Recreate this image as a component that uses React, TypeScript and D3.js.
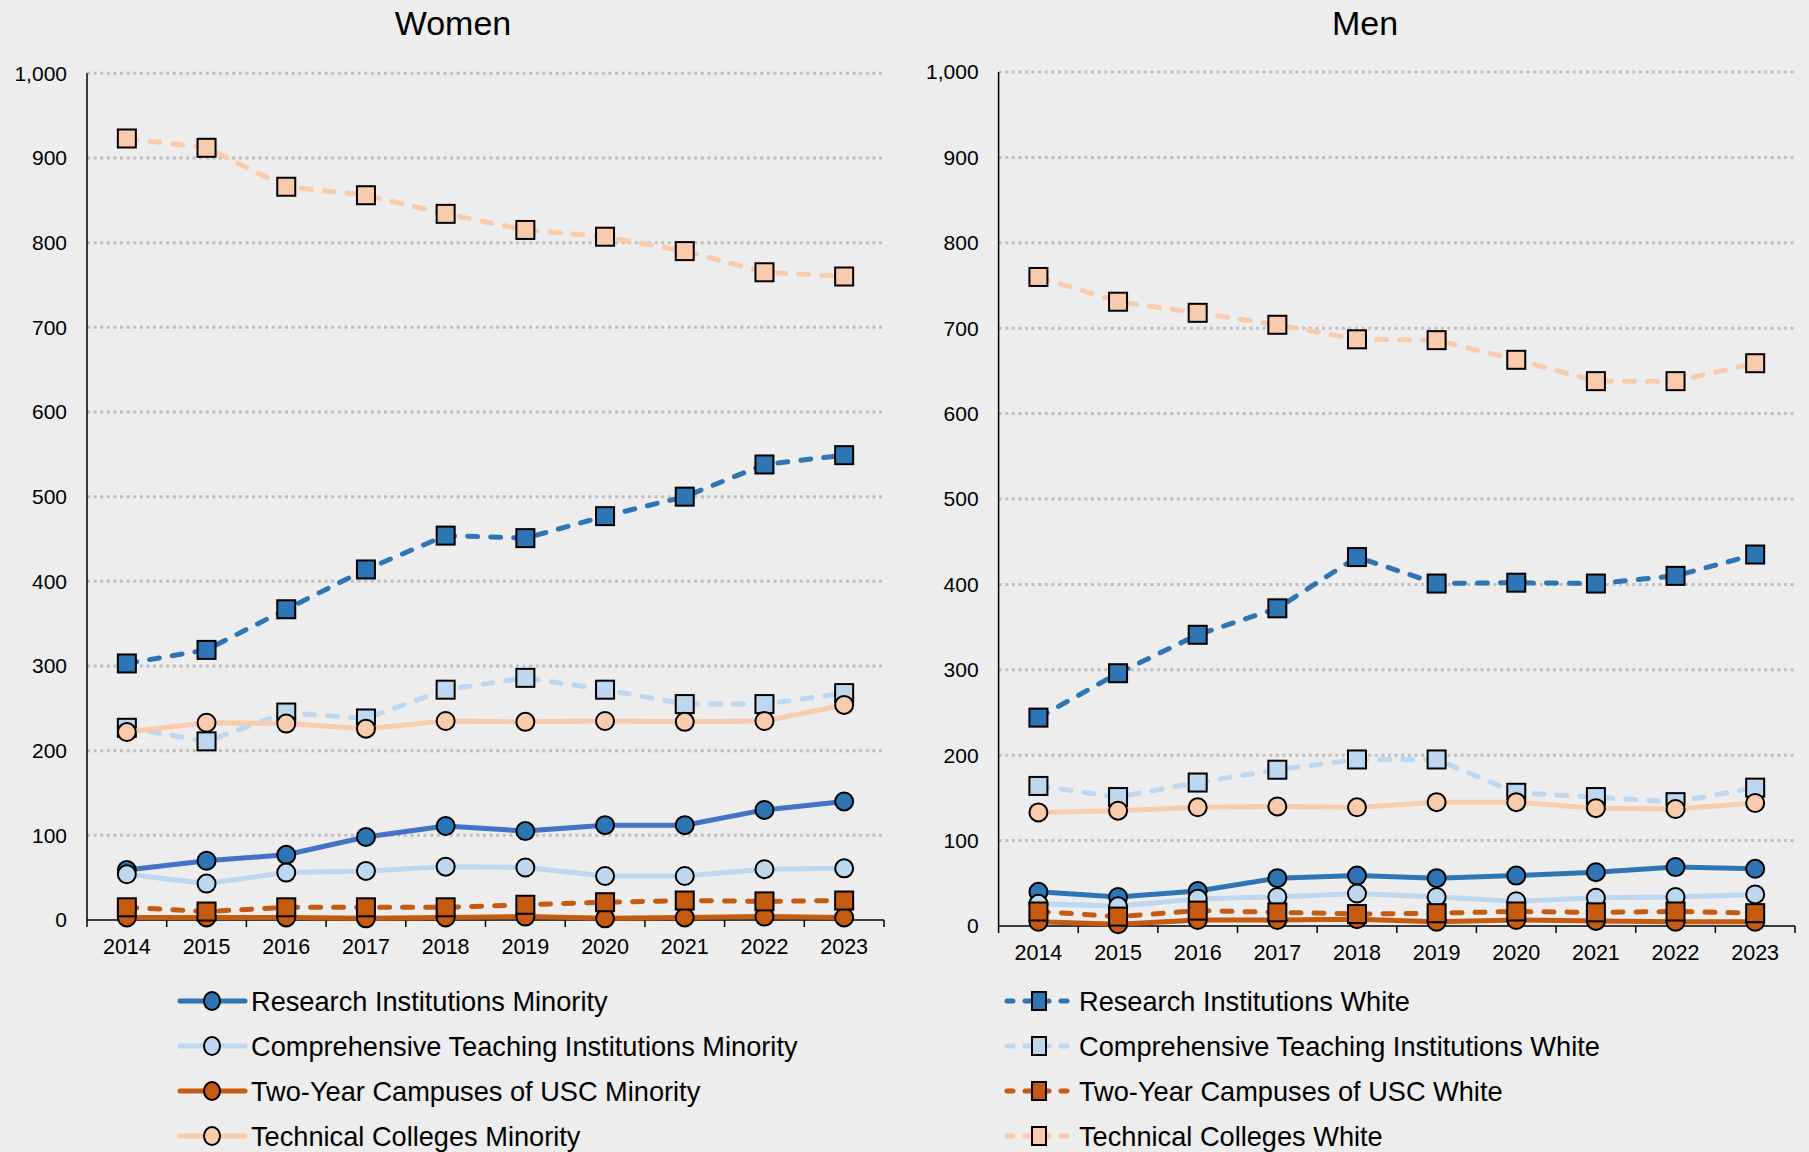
import React from "react";
import * as d3 from "d3";

const years = ["2014", "2015", "2016", "2017", "2018", "2019", "2020", "2021", "2022", "2023"];
const yTicks = [0, 100, 200, 300, 400, 500, 600, 700, 800, 900, 1000];

// Women
const womenResearchMinority = [59, 70, 77, 98, 111, 105, 112, 112, 130, 140];
const womenResearchWhite = [303, 319, 367, 414, 454, 451, 477, 500, 538, 549];
const womenCompMinority = [54, 43, 56, 58, 63, 62, 52, 52, 60, 61];
const womenCompWhite = [227, 211, 245, 238, 272, 286, 272, 255, 255, 268];
const womenTwoYearMinority = [3, 3, 3, 2, 3, 4, 2, 3, 4, 3];
const womenTwoYearWhite = [15, 10, 15, 15, 15, 18, 21, 23, 22, 23];
const womenTechMinority = [222, 233, 232, 226, 235, 234, 235, 234, 235, 254];
const womenTechWhite = [923, 912, 866, 856, 834, 815, 807, 790, 765, 760];

// Men
const menResearchMinority = [40, 34, 41, 56, 59, 56, 59, 63, 69, 67];
const menResearchWhite = [244, 296, 341, 372, 432, 401, 402, 401, 410, 435];
const menCompMinority = [26, 23, 32, 34, 38, 34, 29, 33, 34, 37];
const menCompWhite = [164, 151, 168, 183, 195, 195, 156, 151, 145, 162];
const menTwoYearMinority = [5, 2, 7, 7, 8, 5, 7, 6, 5, 5];
const menTwoYearWhite = [17, 11, 18, 16, 14, 15, 17, 16, 17, 15];
const menTechMinority = [133, 135, 139, 140, 139, 145, 145, 138, 137, 144];
const menTechWhite = [760, 731, 718, 704, 687, 686, 663, 638, 638, 659];

const seriesNames = [
  "Research Institutions Minority",
  "Research Institutions White",
  "Comprehensive Teaching Institutions Minority",
  "Comprehensive Teaching Institutions White",
  "Two-Year Campuses of USC Minority",
  "Two-Year Campuses of USC White",
  "Technical Colleges Minority",
  "Technical Colleges White",
];

type Style = { color: string; dashed: boolean; marker: "circle" | "square" };
const styles: Style[] = [
  { color: "#2E75B6", dashed: false, marker: "circle" },
  { color: "#2E75B6", dashed: true, marker: "square" },
  { color: "#BDD7EE", dashed: false, marker: "circle" },
  { color: "#BDD7EE", dashed: true, marker: "square" },
  { color: "#C55A11", dashed: false, marker: "circle" },
  { color: "#C55A11", dashed: true, marker: "square" },
  { color: "#F8CBAD", dashed: false, marker: "circle" },
  { color: "#F8CBAD", dashed: true, marker: "square" },
];

const womenData = [
  womenResearchMinority, womenResearchWhite, womenCompMinority, womenCompWhite,
  womenTwoYearMinority, womenTwoYearWhite, womenTechMinority, womenTechWhite,
];
const menData = [
  menResearchMinority, menResearchWhite, menCompMinority, menCompWhite,
  menTwoYearMinority, menTwoYearWhite, menTechMinority, menTechWhite,
];

const FONT = "'Liberation Sans', Arial, sans-serif";
const BG = "#EDEDED";

type PanelProps = {
  title: string;
  titleX: number;
  x0: number;
  x1: number;
  yTop: number;
  yBottom: number;
  data: number[][];
  firstLineColor: string;
};

function Panel({ title, titleX, x0, x1, yTop, yBottom, data, firstLineColor }: PanelProps) {
  const x = d3.scaleBand<string>().domain(years).range([x0, x1]).padding(0);
  const y = d3.scaleLinear().domain([0, 1000]).range([yBottom, yTop]);
  const cx = (yr: string) => (x(yr) as number) + x.bandwidth() / 2;
  const line = d3
    .line<number>()
    .x((_, i) => cx(years[i]))
    .y((v) => y(v));
  const fmt = d3.format(",");
  const boundaries = years.map((yr) => x(yr) as number).concat([x1]);

  return (
    <g>
      <text x={titleX} y={35} textAnchor="middle" fontSize={34} fontFamily={FONT} fill="#000">
        {title}
      </text>
      {yTicks
        .filter((t) => t > 0)
        .map((t) => (
          <line
            key={"g" + t}
            x1={x0}
            x2={x1}
            y1={y(t)}
            y2={y(t)}
            stroke="#BFBFBF"
            strokeWidth={3}
            strokeDasharray="3,3.6"
          />
        ))}
      {yTicks.map((t) => (
        <text
          key={"yl" + t}
          x={x0 - 20}
          y={y(t)}
          dy="0.35em"
          textAnchor="end"
          fontSize={21}
          fontFamily={FONT}
          fill="#000"
        >
          {fmt(t)}
        </text>
      ))}
      <line x1={x0} x2={x0} y1={yTop} y2={yBottom} stroke="#000" strokeWidth={1.5} />
      <line x1={x0} x2={x1} y1={yBottom} y2={yBottom} stroke="#000" strokeWidth={1.5} />
      {boundaries.map((b, i) => (
        <line key={"tk" + i} x1={b} x2={b} y1={yBottom} y2={yBottom + 7} stroke="#000" strokeWidth={1.5} />
      ))}
      {years.map((yr) => (
        <text
          key={"xl" + yr}
          x={cx(yr)}
          y={yBottom + 34}
          textAnchor="middle"
          fontSize={21.5}
          fontFamily={FONT}
          fill="#000"
        >
          {yr}
        </text>
      ))}
      {data.map((vals, si) => {
        const st = styles[si];
        const col = si === 0 ? firstLineColor : st.color;
        return (
          <g key={"s" + si}>
            <path
              d={line(vals) || ""}
              fill="none"
              stroke={col}
              strokeWidth={5}
              strokeLinejoin="round"
              strokeLinecap="round"
              strokeDasharray={st.dashed ? "10,13" : undefined}
            />
            {vals.map((v, i) =>
              st.marker === "circle" ? (
                <circle
                  key={i}
                  cx={cx(years[i])}
                  cy={y(v)}
                  r={9}
                  fill={st.color}
                  stroke="#000"
                  strokeWidth={2}
                />
              ) : (
                <rect
                  key={i}
                  x={cx(years[i]) - 9}
                  y={y(v) - 9}
                  width={18}
                  height={18}
                  fill={st.color}
                  stroke="#000"
                  strokeWidth={2}
                />
              )
            )}
          </g>
        );
      })}
    </g>
  );
}

function Legend() {
  const rowY = [1001, 1046, 1091, 1136];
  const cols = [
    { lx0: 180, lx1: 245, mx: 212, tx: 251 },
    { lx0: 1007, lx1: 1070, mx: 1039, tx: 1079 },
  ];
  return (
    <g>
      {seriesNames.map((name, i) => {
        const row = Math.floor(i / 2);
        const col = cols[i % 2];
        const st = styles[i];
        const yy = rowY[row];
        return (
          <g key={name}>
            <line
              x1={col.lx0}
              x2={col.lx1}
              y1={yy}
              y2={yy}
              stroke={st.color}
              strokeWidth={5}
              strokeLinecap="round"
              strokeDasharray={st.dashed ? "6,12" : undefined}
            />
            {st.marker === "circle" ? (
              <ellipse cx={col.mx} cy={yy} rx={8} ry={9} fill={st.color} stroke="#000" strokeWidth={2} />
            ) : (
              <rect x={col.mx - 7} y={yy - 9} width={14} height={18} fill={st.color} stroke="#000" strokeWidth={2} />
            )}
            <text x={col.tx} y={yy} dy="0.35em" fontSize={27.2} fontFamily={FONT} fill="#000">
              {name}
            </text>
          </g>
        );
      })}
    </g>
  );
}

export default function App() {
  return (
    <div style={{ position: "fixed", left: 0, top: 0, width: 1809, height: 1152, background: BG }}>
      <svg width={1809} height={1152} style={{ display: "block" }}>
        <rect x={0} y={0} width={1809} height={1152} fill={BG} />
        <Panel
          title="Women"
          titleX={453}
          x0={87}
          x1={884}
          yTop={73.3}
          yBottom={920}
          data={womenData}
          firstLineColor="#4472C4"
        />
        <Panel
          title="Men"
          titleX={1365}
          x0={998.6}
          x1={1795}
          yTop={72}
          yBottom={926}
          data={menData}
          firstLineColor="#2E75B6"
        />
        <Legend />
      </svg>
    </div>
  );
}
